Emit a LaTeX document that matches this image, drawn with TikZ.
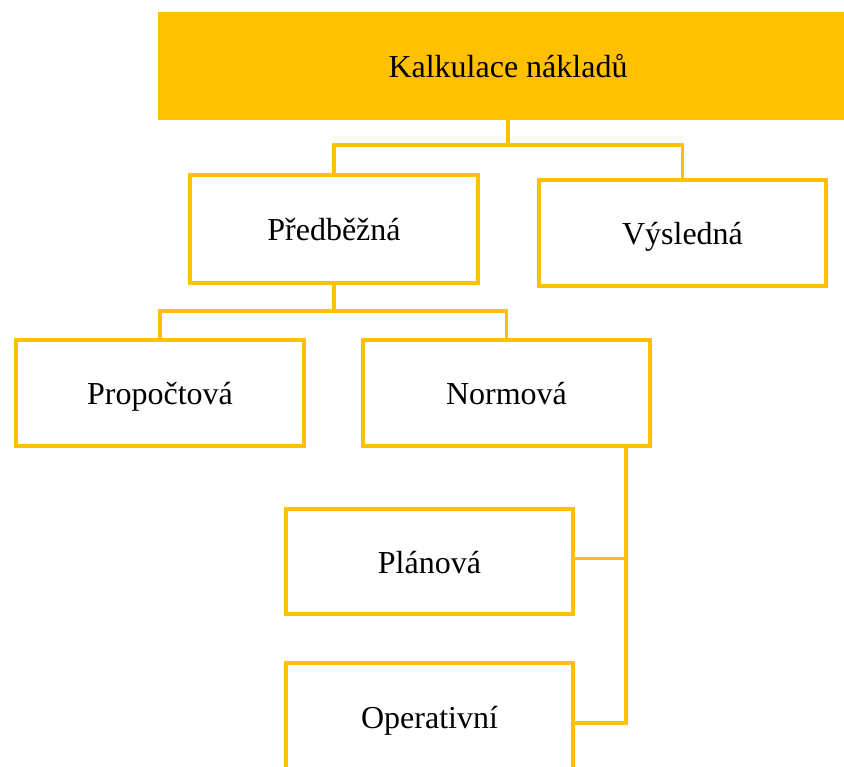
\documentclass[tikz,border=0pt]{standalone}
\usepackage{fontspec}
\setmainfont{Liberation Serif}
\definecolor{gold}{HTML}{FFC000}
\begin{document}
\begin{tikzpicture}[x=1pt,y=-1pt,
  txt/.style={font=\fontsize{32}{36}\selectfont, text=black, text height=31pt, text depth=7pt},
  box/.style={txt, draw=gold, line width=3.5pt, fill=white, inner sep=0pt, outer sep=0pt},
  link/.style={draw=gold, line width=3.2pt}]
\useasboundingbox (0,0) rectangle (844,767);
\clip (0,0) rectangle (844,767);
\node[txt, fill=gold, inner sep=0pt, outer sep=0pt, minimum width=700pt, minimum height=108pt] (top) at (508,66) {Kalkulace nákladů};
\node[box, minimum width=288pt, minimum height=108pt] (pred) at (334,229) {Předběžná};
\node[box, minimum width=287pt, minimum height=106pt] (vys) at (682.5,233) {Výsledná};
\node[box, minimum width=288pt, minimum height=106pt] (prop) at (160,393) {Propočtová};
\node[box, minimum width=287pt, minimum height=106pt] (norm) at (506.5,393) {Normová};
\node[box, minimum width=287pt, minimum height=105pt] (plan) at (429.5,561.5) {Plánová};
\node[box, minimum width=287pt, minimum height=106pt] (oper) at (429.5,716) {Operativní};
\coordinate (j1) at (508,145);
\coordinate (j2) at (334,311);
\draw[link] (top.south) -- (j1);
\draw[link] (pred.north) |- (j1) -| (vys.north);
\draw[link] (pred.south) -- (j2);
\draw[link] (prop.north) |- (j2) -| (norm.north);
\coordinate (k) at ([xshift=-24pt]norm.south east);
\draw[link] (k) |- ([yshift=-7pt]oper.east);
\draw[link] ([yshift=3pt]plan.east) -- ([yshift=3pt]plan.east -| k);
\end{tikzpicture}
\end{document}
